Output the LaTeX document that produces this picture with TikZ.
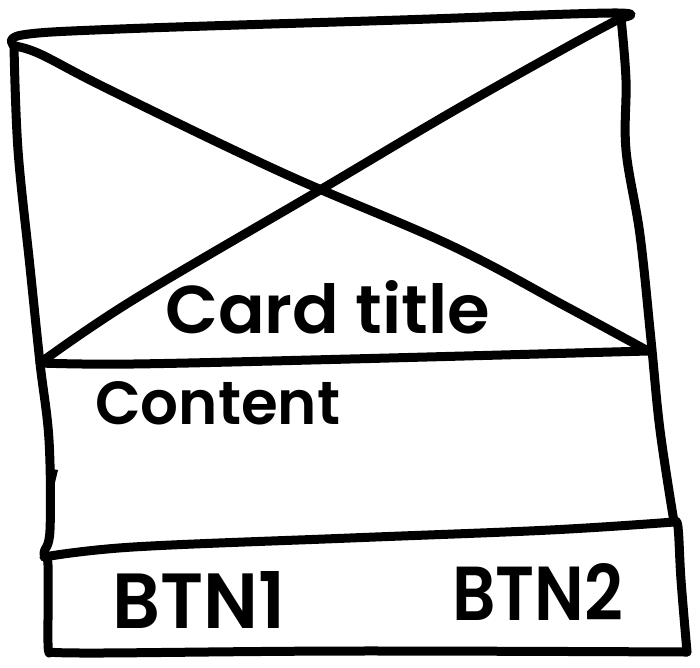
\documentclass[tikz,border=0pt]{standalone}
\usepackage{graphicx}
\usepackage{fontspec}
\setmainfont{Poppins}
\newfontfamily\handfont{Poppins SemiBold}
\begin{document}
\begin{tikzpicture}[x=1pt,y=-1pt,
  ink/.style={line width=9pt,line cap=round,line join=round,black},
  label/.style={anchor=base west,inner sep=0pt,font=\handfont}]
\useasboundingbox (0,0) rectangle (700,667);
% corner points of the card
\coordinate (tl) at (14,46);
\coordinate (tr) at (621,18);
\coordinate (hl) at (40,363);
\coordinate (hr) at (648,351);
\coordinate (fl) at (44,557);
\coordinate (fr) at (674,522);
\coordinate (bl) at (50,652);
\coordinate (br) at (687,652);
% outer frame strokes
\draw[ink] plot[smooth,tension=0.6] coordinates {(tl) (22,35) (120,29) (400,20) (612,13) (tr)};
\draw[ink] plot[smooth,tension=0.6] coordinates {(tl) (18,150) (30,267) (hl) (49,440) (50,530) (44,553) (48,565) (48,643) (bl)};
\draw[ink] plot[smooth,tension=0.6] coordinates {(tr) (626,80) (626,150) (640,235) (651,340) (660,430) (fr)};
% image area / content divider
\draw[ink] plot[smooth,tension=0.6] coordinates {(hl) (133,364) (350,359) (hr)};
% footer strip
\draw[ink] plot[smooth,tension=0.6] coordinates {(fl) (133,547) (350,538) (550,530) (fr)};
\draw[ink] plot[smooth,tension=0.6] coordinates {(fr) (678,527) (681,580) (br)};
\draw[ink] plot[smooth,tension=0.6] coordinates {(bl) (100,653) (350,651) (br)};
% image placeholder cross
\draw[ink] plot[smooth,tension=0.6] coordinates {(tl) (40,54) (110,90) (283,173) (450,245) (567,307) (hr)};
\draw[ink] plot[smooth,tension=0.6] coordinates {(hl) (133,300) (320,190) (450,113) (567,47) (tr)};
% small nick on the left edge
\fill[black] (47,468) -- (58,470) -- (53,491) -- cycle;
% texts
\node[label] (title) at (165,333) {\resizebox{325pt}{53pt}{Card title}};
\node[label] (content) at (95,424) {\resizebox{245pt}{43pt}{Content}};
\node[label] (btn1) at (112,628) {\resizebox{173pt}{57pt}{BTN1}};
\node[label] (btn2) at (452,620) {\resizebox{171pt}{57pt}{BTN2}};
\end{tikzpicture}
\end{document}
